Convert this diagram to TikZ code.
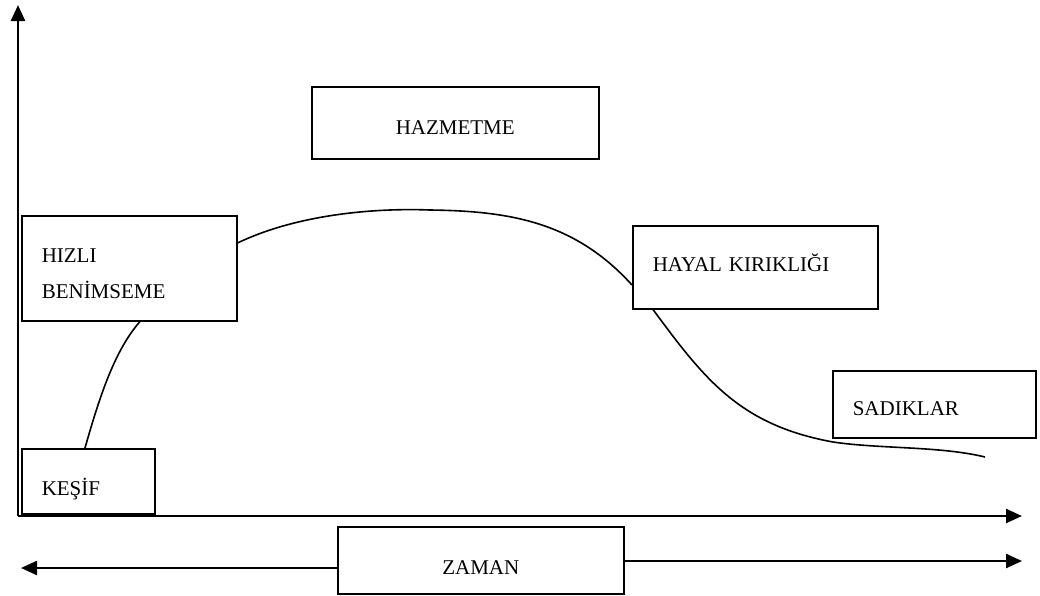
\documentclass[tikz,border=0pt]{standalone}
\usepackage{fontspec}
\setmainfont{Liberation Serif}
\usetikzlibrary{arrows.meta,calc}

\begin{document}
\begin{tikzpicture}[x=1pt, y=-1pt, every node/.style={font=\fontsize{21}{25}\selectfont}, box/.style={
% The shape:
rectangle, anchor=north west,
% The size:
inner xsep=20pt, inner ysep=0pt, text depth=0pt,
% The border:
draw=black, line width=1.5pt
}, axis/.style={line width=2.4pt, -{Triangle[length=16pt,width=14pt]}},
curve/.style={line width=1.6pt}]

	\useasboundingbox (0,0) rectangle (1040,595);

	\node (kesif) [box, text width=93pt, minimum height=65pt, align=left, text height=29pt] at (21,448) {KEŞİF};
	\node (hizli) [box, text width=175pt, minimum height=105pt, align=left, font=\fontsize{21}{36}\selectfont, text height=25pt, text depth=36pt] at (21,215) {HIZLI\\BENİMSEME};
	\node (hazmetme) [box, minimum width=287pt, minimum height=72pt, text height=23pt] at (311,86) {HAZMETME};
	\node (hayal) [box, text width=205pt, minimum height=83pt, align=left, text height=9pt] at (632,225) {HAYAL KIRIKLIĞI};
	\node (sadiklar) [box, text width=163pt, minimum height=67pt, align=left, text height=23pt] at (832,370) {SADIKLAR};
	\node (zaman) [box, minimum width=286pt, minimum height=67pt, text height=28pt] at (337,526) {ZAMAN};

	% axes
	\coordinate (origin) at (18,516);
	\coordinate (ytop) at (18,5);
	\coordinate (xend) at (1022,516);
	\draw[axis] (origin) -- (ytop);
	\draw[axis] (origin) -- (xend);

	% time arrows
	\coordinate (tleft) at (21,568);
	\coordinate (tright) at (1022,561);
	\draw[axis] (zaman.west |- tleft) -- (tleft);
	\draw[axis] (zaman.east |- tright) -- (tright);

	% curve
	\coordinate (curveend) at (985,457);
	\draw[curve] ($(kesif.north west)+(64,0)$) .. controls (100,395) and (115,350) .. ($(hizli.south west)+(119,0)$);
	\draw[curve] ($(hizli.north east)+(0,28)$) .. controls (300,213) and (380,208) .. (430,210)
		.. controls (510,211) and (575,222) .. ($(hayal.north west)+(0,60)$);
	\draw[curve] ($(hayal.south west)+(21,0)$) .. controls (705,380) and (740,425) .. (833,442)
		.. controls (880,449) and (940,446) .. (curveend);
\end{tikzpicture}
\end{document}
